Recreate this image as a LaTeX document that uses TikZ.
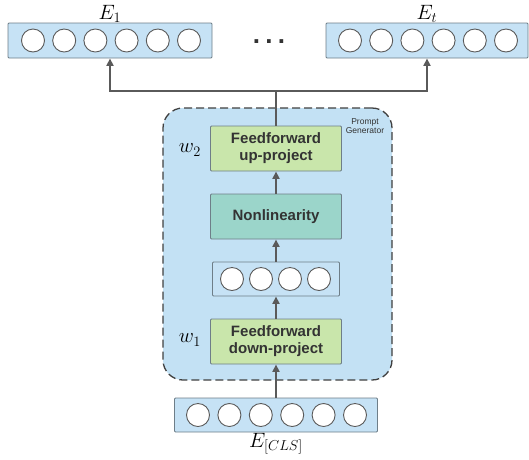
\documentclass[tikz,border=0pt]{standalone}
\usepackage{fontspec}
\setsansfont{Liberation Sans}
\usetikzlibrary{arrows.meta}
\definecolor{vecblue}{HTML}{C6E2F5}
\definecolor{genblue}{HTML}{C3E1F4}
\definecolor{edgegray}{HTML}{6E7E88}
\definecolor{ffgreen}{HTML}{C9E6AB}
\definecolor{nlteal}{HTML}{9BD5CA}
\definecolor{txtgray}{HTML}{333333}
\definecolor{arrgray}{HTML}{5A5A5A}

\begin{document}
\begin{tikzpicture}[x=1pt,y=-1pt,
	vecbox/.style={draw=edgegray,fill=vecblue,line width=0.9pt,rectangle,rounded corners=1pt,minimum height=35pt,inner sep=0pt},
	unit/.style={draw=arrgray,fill=white,circle,line width=0.9pt,minimum size=23pt,inner sep=0pt},
	layer/.style={draw=edgegray,rectangle,rounded corners=1pt,line width=0.9pt,minimum width=131pt,minimum height=45pt,align=center,text=txtgray,font=\sffamily\bfseries\fontsize{15}{17}\selectfont},
	arr/.style={draw=arrgray,line width=2.8pt,-{Triangle[length=7.5pt,width=7pt]}},
	lbl/.style={font=\fontsize{20}{24}\selectfont,text=black}]
			\useasboundingbox (0,0) rectangle (529,459);
			% prompt generator
			\node[draw=black!75,dash pattern=on 8pt off 4pt,line width=1.3pt,fill=genblue,rounded corners=20pt,minimum width=229pt,minimum height=272pt] (gen) at (277.5,244) {};
			\node[font=\sffamily\fontsize{8.5}{9.5}\selectfont,text=txtgray,align=center] (genname) at (365,126) {Prompt\\Generator};
			% vectors
			\node[vecbox,minimum width=204pt] (e1) at (110,40.5) {};
			\node[vecbox,minimum width=202pt] (et) at (427,40.5) {};
			\node[vecbox,minimum width=127pt,minimum height=34pt] (hid) at (276,279) {};
			\node[vecbox,minimum width=203pt,minimum height=34pt] (cls) at (276,415) {};
			\foreach \i in {1,...,6} {
				\node[unit] (e1-\i) at ({33+31.2*(\i-1)},40.5) {};
				\node[unit] (et-\i) at ({350+31.2*(\i-1)},40.5) {};
				\node[unit] (cls-\i) at ({198+31.4*(\i-1)},415) {};
			}
			\foreach \i in {1,...,4}
				\node[unit] (hid-\i) at ({232+29*(\i-1)},279) {};
			% layers
			\node[layer,fill=ffgreen] (ffup) at (276,148.5) {Feedforward\\up-project};
			\node[layer,fill=nlteal] (nonlin) at (276,216.5) {Nonlinearity};
			\node[layer,fill=ffgreen] (ffdown) at (276,341.5) {Feedforward\\down-project};
			% arrows
			\coordinate (split) at (276,91);
			\draw[arr] (cls) -- (ffdown);
			\draw[arr] (ffdown) -- (hid);
			\draw[arr] (hid) -- (nonlin);
			\draw[arr] (nonlin) -- (ffup);
			\draw[arr] (ffup.north) -- (split) -| (e1.south);
			\draw[arr] (split) -| (et.south);
			% labels
			\node[lbl,anchor=base] (e1name) at (110,19) {$E_1$};
			\node[lbl,anchor=base] (etname) at (427,19) {$E_t$};
			\node[lbl,anchor=base] (clsname) at (276,447) {$E_{[CLS]}$};
			\node[lbl,font=\fontsize{22}{26}\selectfont] (w2) at (190,150) {$w_2$};
			\node[lbl,font=\fontsize{22}{26}\selectfont] (w1) at (190,340) {$w_1$};
			\node[font=\sffamily\bfseries\fontsize{26}{28}\selectfont,text=txtgray] (dots) at (269,42) {.\kern5.3pt.\kern5.3pt.};
		\end{tikzpicture}
\end{document}
